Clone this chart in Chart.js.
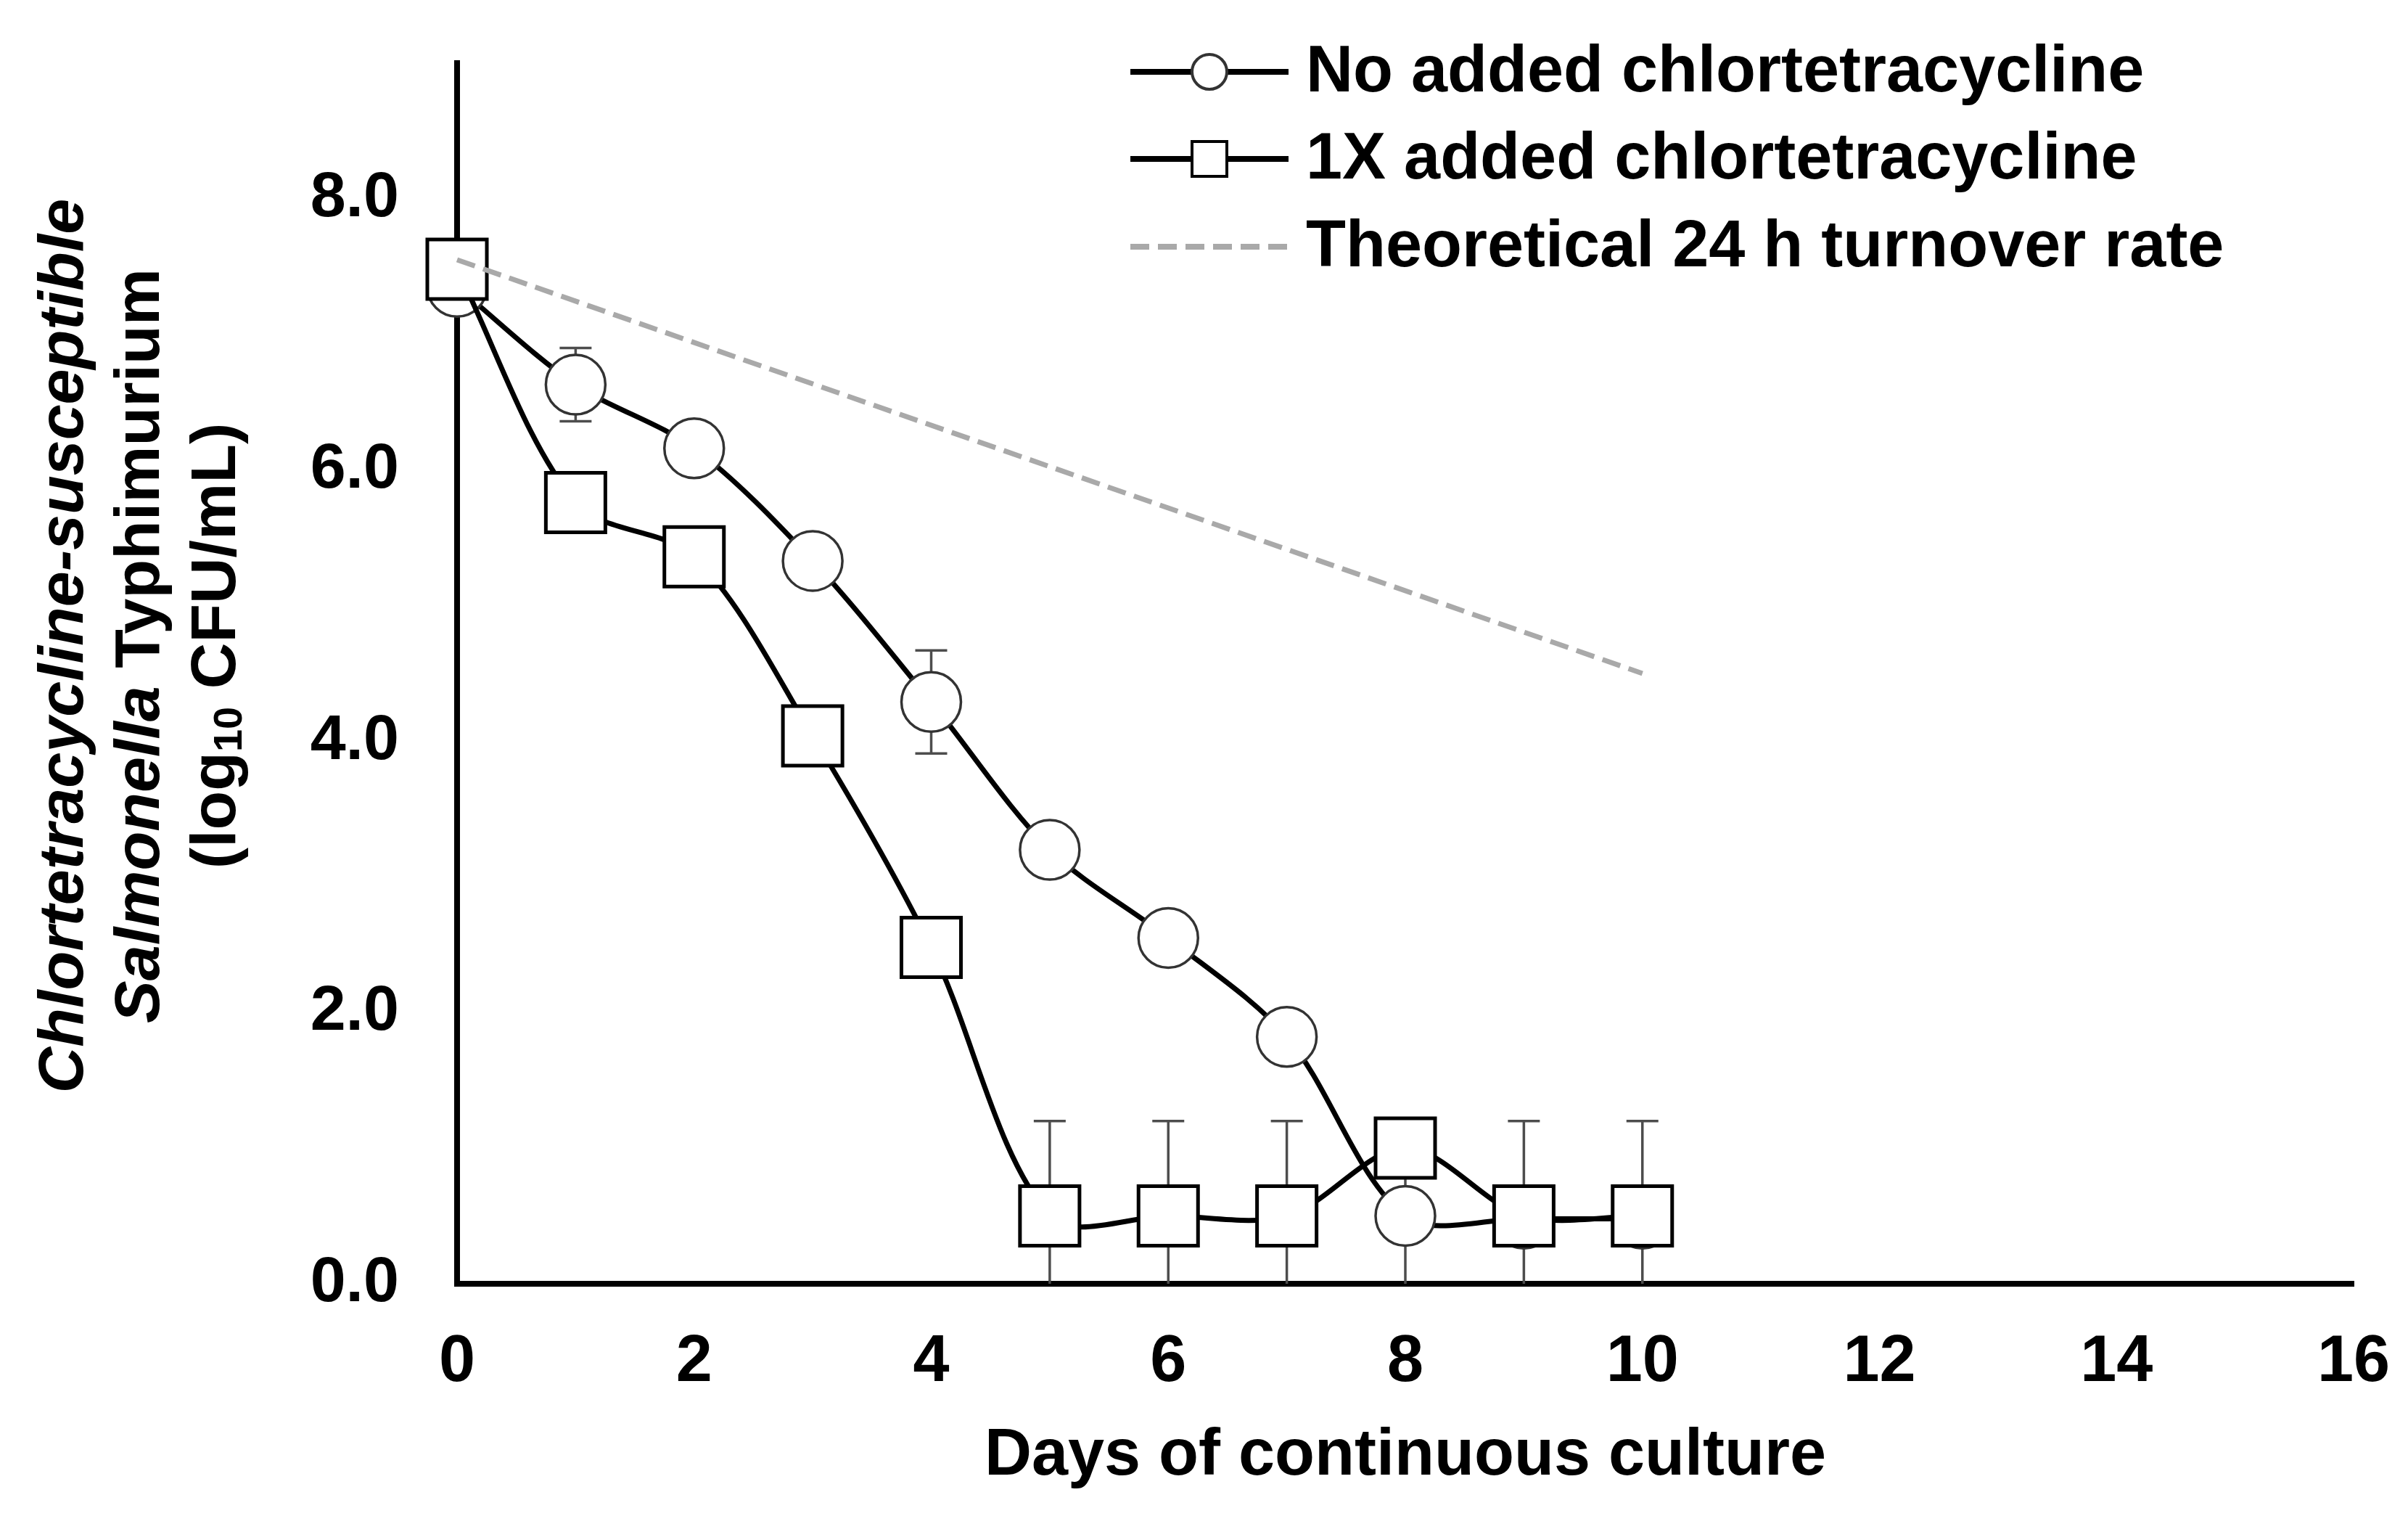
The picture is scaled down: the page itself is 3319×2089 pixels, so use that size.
<!DOCTYPE html>
<html lang="en">
  <head>
    <meta charset="UTF-8" />
    <title>Salmonella continuous culture</title>
    <script src="https://cdn.jsdelivr.net/npm/chart.js@4.4.1/dist/chart.umd.min.js"></script>
    <style>
      html, body { margin: 0; padding: 0; background: #fff; }
      #chartCanvas { display: block; }
    </style>
  </head>
  <body>
    <canvas id="chartCanvas" width="3319" height="2089" style="width:3319px;height:2089px"></canvas>
    <script>
      // values
      const days = [0, 1, 2, 3, 4, 5, 6, 7, 8, 9, 10];
      const noAdded = [7.35, 6.63, 6.16, 5.33, 4.29, 3.2, 2.55, 1.82, 0.5, 0.48, 0.48];
      const noAddedErr = [0, 0.27, 0, 0, 0.38, 0, 0, 0, 0.7, 0, 0];
      const oneX = [7.48, 5.76, 5.36, 4.04, 2.48, 0.5, 0.5, 0.5, 1.0, 0.5, 0.5];
      const oneXErr = [0, 0, 0, 0, 0, 0.7, 0.7, 0.7, 0, 0.7, 0.7];
      const theoryDays = [0, 10];
      const theory = [7.55, 4.5];

      const seriesLabels = [
        "No added chlortetracycline",
        "1X added chlortetracycline",
        "Theoretical 24 h turnover rate",
      ];
      const xTitle = "Days of continuous culture";

      const FONT = "'Liberation Sans', Arial, sans-serif";
      const toPoints = (xs, ys) => xs.map((x, i) => ({ x: x, y: ys[i] }));

      // error bars, drawn under the markers and clipped at the axes
      const errorBars = {
        id: "errorBars",
        beforeDatasetsDraw(chart) {
          const { ctx, chartArea, scales } = chart;
          ctx.save();
          ctx.beginPath();
          ctx.rect(chartArea.left, chartArea.top, chartArea.right - chartArea.left, chartArea.bottom - chartArea.top);
          ctx.clip();
          ctx.strokeStyle = "#4d4d4d";
          ctx.lineWidth = 3.5;
          chart.data.datasets.forEach((ds) => {
            if (!ds.errors) return;
            ds.data.forEach((p, i) => {
              const e = ds.errors[i];
              if (!e) return;
              const x = scales.x.getPixelForValue(p.x);
              const y1 = scales.y.getPixelForValue(p.y + e);
              const y2 = scales.y.getPixelForValue(p.y - e);
              ctx.beginPath();
              ctx.moveTo(x, y1);
              ctx.lineTo(x, y2);
              ctx.moveTo(x - 22, y1);
              ctx.lineTo(x + 22, y1);
              ctx.moveTo(x - 22, y2);
              ctx.lineTo(x + 22, y2);
              ctx.stroke();
            });
          });
          ctx.restore();
        },
      };

      // y axis title has italic words and a subscript, so it is drawn by hand
      const yTitle = {
        id: "yTitle",
        afterDraw(chart) {
          const { ctx } = chart;
          const lines = [
            [{ t: "Chlortetracycline-susceptible", f: "italic bold 88px " + FONT }],
            [
              { t: "Salmonella", f: "italic bold 88px " + FONT },
              { t: " Typhimurium", f: "bold 88px " + FONT },
            ],
            [
              { t: "(log", f: "bold 88px " + FONT },
              { t: "10", f: "bold 56px " + FONT, dy: 18 },
              { t: " CFU/mL)", f: "bold 88px " + FONT },
            ],
          ];
          const xs = [90, 195, 300];
          const cy = 890;
          ctx.save();
          ctx.fillStyle = "#000";
          ctx.textBaseline = "middle";
          ctx.textAlign = "left";
          lines.forEach((parts, k) => {
            let total = 0;
            parts.forEach((p) => {
              ctx.font = p.f;
              p.w = ctx.measureText(p.t).width;
              total += p.w;
            });
            ctx.save();
            ctx.translate(xs[k], cy);
            ctx.rotate(-Math.PI / 2);
            let x = -total / 2;
            parts.forEach((p) => {
              ctx.font = p.f;
              ctx.fillText(p.t, x, p.dy || 0);
              x += p.w;
            });
            ctx.restore();
          });
          ctx.restore();
        },
      };

      // legend in the top right: line sample with the marker on it
      const legendBox = {
        id: "legendBox",
        afterDraw(chart) {
          const { ctx } = chart;
          const rows = [99, 219, 340];
          const x0 = 1558, x1 = 1776, xm = 1667, xt = 1800;
          ctx.save();
          [2, 1, 0].forEach((di, k) => {
            const ds = chart.data.datasets[di];
            const y = rows[k];
            ctx.strokeStyle = ds.borderColor;
            ctx.lineWidth = 8;
            ctx.setLineDash(ds.borderDash || []);
            ctx.beginPath();
            ctx.moveTo(x0, y);
            ctx.lineTo(x1, y);
            ctx.stroke();
            ctx.setLineDash([]);
            if (ds.pointRadius) {
              ctx.fillStyle = "#fff";
              ctx.strokeStyle = ds.pointBorderColor;
              ctx.lineWidth = 4;
              ctx.beginPath();
              if (ds.pointStyle === "rect") ctx.rect(xm - 24, y - 24, 48, 48);
              else ctx.arc(xm, y, 24, 0, Math.PI * 2);
              ctx.fill();
              ctx.stroke();
            }
            ctx.fillStyle = "#000";
            ctx.font = "bold 90px " + FONT;
            ctx.textBaseline = "middle";
            ctx.fillText(ds.label, xt, y + 2);
          });
          ctx.restore();
        },
      };

      const chart = new Chart(document.getElementById("chartCanvas"), {
        type: "line",
        data: {
          datasets: [
            {
              label: seriesLabels[2],
              data: toPoints(theoryDays, theory),
              borderColor: "#a9a9a9",
              borderWidth: 7,
              borderDash: [26, 12],
              pointRadius: 0,
              tension: 0,
              clip: false,
              order: 0,
            },
            {
              label: seriesLabels[1],
              data: toPoints(days, oneX),
              errors: oneXErr,
              borderColor: "#000",
              borderWidth: 7,
              tension: 0.32,
              pointStyle: "rect",
              pointRadius: 58,
              pointBorderWidth: 5,
              pointBorderColor: "#000",
              pointBackgroundColor: "#fff",
              clip: false,
              order: 1,
            },
            {
              label: seriesLabels[0],
              data: toPoints(days, noAdded),
              errors: noAddedErr,
              borderColor: "#000",
              borderWidth: 7,
              tension: 0.32,
              pointStyle: "circle",
              pointRadius: 41,
              pointBorderWidth: 3.5,
              pointBorderColor: "#333",
              pointBackgroundColor: "#fff",
              clip: false,
              order: 2,
            },
          ],
        },
        options: {
          responsive: false,
          animation: false,
          devicePixelRatio: 1,
          layout: { padding: { top: 87, right: 75, left: 0, bottom: 0 } },
          plugins: { legend: { display: false }, tooltip: { enabled: false } },
          scales: {
            x: {
              type: "linear",
              min: 0,
              max: 16,
              grid: { display: false, drawTicks: false },
              border: { color: "#000", width: 8 },
              ticks: { stepSize: 2, padding: 55, color: "#000", font: { family: FONT, size: 90, weight: "bold" } },
              title: {
                display: true,
                text: xTitle,
                color: "#000",
                font: { family: FONT, size: 90, weight: "bold" },
                padding: { top: 0, bottom: 28 },
              },
              afterFit(scale) {
                scale.height = 320;
                scale.paddingLeft = 0;
                scale.paddingRight = 0;
              },
            },
            y: {
              min: 0,
              max: 9,
              grid: { display: false, drawTicks: false },
              border: { color: "#000", width: 8 },
              ticks: {
                stepSize: 2,
                padding: 80,
                color: "#000",
                font: { family: FONT, size: 88, weight: "bold" },
                callback: (v) => v.toFixed(1),
              },
              afterBuildTicks(scale) {
                scale.ticks = scale.ticks.filter((t) => t.value <= 8);
              },
              afterFit(scale) {
                scale.width = 630;
                scale.paddingTop = 0;
                scale.paddingBottom = 0;
              },
            },
          },
        },
        plugins: [errorBars, yTitle, legendBox],
      });
    </script>
  </body>
</html>
